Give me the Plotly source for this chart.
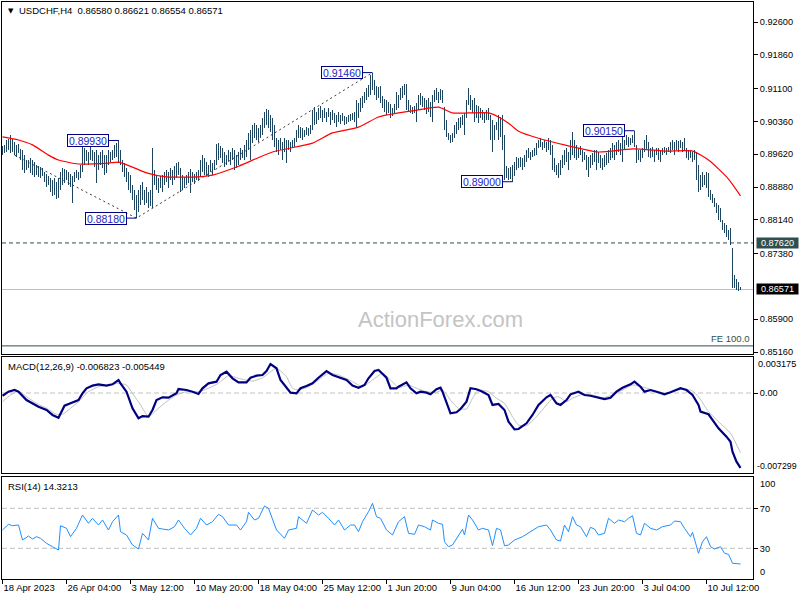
import plotly.graph_objects as go

# ---------------- data ----------------
SYMBOL = "USDCHF,H4"
LAST_OHLC = ["0.86580", "0.86621", "0.86554", "0.86571"]

bar_high = [
    0.8980, 0.8983, 0.8994, 0.8996, 0.9005, 0.8996, 0.8989, 0.8983, 0.8985,
    0.8974, 0.8972, 0.8960, 0.8949, 0.8949, 0.8954, 0.8949, 0.8944, 0.8938, 0.8936, 0.8933, 0.8931, 0.8922,
    0.8918, 0.8913, 0.8909, 0.8904, 0.8909, 0.8900, 0.8909,
    0.8922, 0.8931, 0.8929, 0.8926, 0.8922, 0.8918, 0.8913, 0.8922, 0.8926, 0.8922, 0.8938, 0.8978,
    0.8976, 0.8972, 0.8967, 0.8978, 0.8972, 0.8967, 0.8972, 0.8960, 0.8967, 0.8972, 0.8960, 0.8960, 0.8972,
    0.8967, 0.8972, 0.8983, 0.8987, 0.8993, 0.8972,
    0.8949, 0.8942, 0.8931, 0.8922, 0.8915, 0.8892, 0.8881, 0.8870, 0.8881, 0.8892, 0.8900, 0.8881, 0.8888,
    0.8877, 0.8881, 0.8976, 0.8926, 0.8915, 0.8909,
    0.8913, 0.8915, 0.8922, 0.8926, 0.8922, 0.8931, 0.8926, 0.8936, 0.8942, 0.8944, 0.8931, 0.8915, 0.8911,
    0.8915, 0.8922, 0.8929, 0.8922, 0.8918, 0.8922, 0.8926,
    0.8949, 0.8960, 0.8954, 0.8944, 0.8938, 0.8949, 0.8942, 0.8949, 0.8985, 0.8987, 0.8980, 0.8976, 0.8967,
    0.8960, 0.8972, 0.8967, 0.8976, 0.8972, 0.8960, 0.8967, 0.8976, 0.8972, 0.8983, 0.8994, 0.9010, 0.9017,
    0.9028, 0.9032, 0.9028, 0.9021,
    0.9028, 0.9044, 0.9057, 0.9064, 0.9062, 0.9050, 0.9044, 0.9028, 0.8998, 0.8994, 0.8998, 0.8989, 0.8998,
    0.8994, 0.8994, 0.8989, 0.8994, 0.8998, 0.9017, 0.9028,
    0.9023, 0.9021, 0.9017, 0.9023, 0.9021, 0.9028, 0.9062, 0.9068, 0.9057, 0.9066, 0.9070, 0.9062, 0.9066,
    0.9057, 0.9066, 0.9057, 0.9062, 0.9055, 0.9050, 0.9057, 0.9050, 0.9055, 0.9048, 0.9046, 0.9050, 0.9053,
    0.9055, 0.9057, 0.9084, 0.9077, 0.9088, 0.9093,
    0.9102, 0.9111, 0.9118, 0.9141, 0.9146, 0.9129, 0.9115, 0.9113, 0.9115, 0.9093, 0.9086, 0.9084, 0.9080,
    0.9075, 0.9066, 0.9075, 0.9102, 0.9096, 0.9111, 0.9115, 0.9120, 0.9120, 0.9084,
    0.9073, 0.9068, 0.9070, 0.9077, 0.9096, 0.9100, 0.9093, 0.9089, 0.9084, 0.9089, 0.9080, 0.9096, 0.9107,
    0.9111, 0.9102, 0.9109, 0.9107, 0.9068, 0.9039, 0.9010, 0.9005, 0.9010, 0.9028, 0.9035, 0.9044, 0.9046,
    0.9050, 0.9055, 0.9084, 0.9111, 0.9096, 0.9084, 0.9089, 0.9073, 0.9070, 0.9066, 0.9062, 0.9057, 0.9062,
    0.9066, 0.9050, 0.9039, 0.9028, 0.9035, 0.9050,
    0.9046, 0.9050, 0.9005, 0.8936, 0.8931, 0.8933, 0.8938, 0.8944, 0.8956, 0.8954, 0.8956, 0.8954, 0.8960,
    0.8972, 0.8976, 0.8967, 0.8972, 0.8976, 0.8987, 0.8994, 0.8998, 0.8989, 0.8994, 0.8989, 0.8998, 0.8994,
    0.8983, 0.8954, 0.8938, 0.8942, 0.8949, 0.8960, 0.8972, 0.8976, 0.8967, 0.8994, 0.9012, 0.8994, 0.8983,
    0.8976, 0.8980, 0.8972, 0.8967, 0.8960, 0.8956, 0.8960, 0.8965, 0.8972, 0.8972, 0.8967,
    0.8960, 0.8954, 0.8960, 0.8965, 0.8972, 0.8976, 0.8987, 0.8983, 0.8989, 0.8994, 0.8987, 0.9012, 0.8994,
    0.9005, 0.9001, 0.8998, 0.9005, 0.9015, 0.8983, 0.8972, 0.8972, 0.8976, 0.8994, 0.9005, 0.8989, 0.8976,
    0.8978, 0.8972, 0.8976, 0.8976, 0.8972, 0.8976, 0.8978, 0.8976, 0.8978, 0.8989, 0.8994, 0.8989, 0.8994,
    0.8991, 0.8994, 0.8989, 0.8998, 0.8976, 0.8972, 0.8972, 0.8967, 0.8972, 0.8967, 0.8938,
    0.8915, 0.8922, 0.8915, 0.8922, 0.8920, 0.8881, 0.8872, 0.8863, 0.8852, 0.8848, 0.8841, 0.8814, 0.8807,
    0.8802, 0.8791, 0.8796, 0.8751, 0.8690, 0.8681, 0.8674, 0.8662,
]

bar_low = [
    0.8960, 0.8965, 0.8967, 0.8972, 0.8965, 0.8968, 0.8960, 0.8956, 0.8965,
    0.8949, 0.8926, 0.8920, 0.8926, 0.8931, 0.8920, 0.8915, 0.8911, 0.8915, 0.8911, 0.8909, 0.8913, 0.8900,
    0.8888, 0.8892, 0.8876, 0.8867, 0.8870, 0.8861, 0.8863,
    0.8881, 0.8892, 0.8897, 0.8904, 0.8892, 0.8888, 0.8852, 0.8900, 0.8909, 0.8904, 0.8909, 0.8922,
    0.8938, 0.8947, 0.8938, 0.8949, 0.8947, 0.8933, 0.8897, 0.8926, 0.8938, 0.8931, 0.8915, 0.8920, 0.8938,
    0.8944, 0.8949, 0.8954, 0.8956, 0.8942, 0.8938,
    0.8922, 0.8911, 0.8900, 0.8881, 0.8874, 0.8859, 0.8836, 0.8818, 0.8832, 0.8848, 0.8859, 0.8848, 0.8852,
    0.8841, 0.8845, 0.8841, 0.8892, 0.8881, 0.8874,
    0.8885, 0.8876, 0.8892, 0.8900, 0.8885, 0.8904, 0.8892, 0.8904, 0.8909, 0.8915, 0.8876, 0.8881, 0.8885,
    0.8892, 0.8897, 0.8874, 0.8900, 0.8894, 0.8904, 0.8902,
    0.8911, 0.8922, 0.8915, 0.8913, 0.8911, 0.8922, 0.8915, 0.8926, 0.8938, 0.8949, 0.8954, 0.8942, 0.8933,
    0.8938, 0.8947, 0.8938, 0.8949, 0.8926, 0.8931, 0.8938, 0.8949, 0.8954, 0.8949, 0.8956, 0.8972, 0.8949,
    0.8987, 0.8998, 0.8994, 0.8989,
    0.8998, 0.9005, 0.9021, 0.9028, 0.9021, 0.9012, 0.8994, 0.8978, 0.8967, 0.8960, 0.8972, 0.8949, 0.8967,
    0.8942, 0.8972, 0.8967, 0.8976, 0.8978, 0.8989, 0.8998,
    0.8998, 0.8994, 0.9001, 0.9005, 0.9003, 0.9008, 0.9017, 0.9028, 0.9030, 0.9039, 0.9044, 0.9035, 0.9044,
    0.9035, 0.9046, 0.9028, 0.9039, 0.9032, 0.9023, 0.9035, 0.9030, 0.9037, 0.9028, 0.9030, 0.9035, 0.9037,
    0.9039, 0.9035, 0.9023, 0.9044, 0.9057, 0.9066,
    0.9077, 0.9084, 0.9091, 0.9096, 0.9107, 0.9096, 0.9084, 0.9088, 0.9077, 0.9066, 0.9057, 0.9050, 0.9055,
    0.9044, 0.9048, 0.9053, 0.9062, 0.9066, 0.9084, 0.9088, 0.9096, 0.9062, 0.9057,
    0.9055, 0.9053, 0.9055, 0.9034, 0.9062, 0.9073, 0.9068, 0.9062, 0.9053, 0.9057, 0.9046, 0.9034, 0.9080,
    0.9084, 0.9077, 0.9084, 0.9077, 0.9017, 0.9001, 0.8994, 0.8987, 0.8989, 0.8998, 0.9008, 0.9017, 0.9021,
    0.9028, 0.9005, 0.9044, 0.9073, 0.9062, 0.9055, 0.9035, 0.9044, 0.9032, 0.9044, 0.9039, 0.9032, 0.9039,
    0.9039, 0.8994, 0.8967, 0.8994, 0.9017, 0.8994,
    0.9001, 0.8972, 0.8904, 0.8909, 0.8904, 0.8907, 0.8900, 0.8913, 0.8926, 0.8931, 0.8933, 0.8926, 0.8933,
    0.8944, 0.8954, 0.8949, 0.8956, 0.8958, 0.8960, 0.8976, 0.8978, 0.8972, 0.8976, 0.8967, 0.8972, 0.8960,
    0.8926, 0.8922, 0.8915, 0.8909, 0.8915, 0.8931, 0.8938, 0.8944, 0.8926, 0.8949, 0.8960, 0.8954, 0.8949,
    0.8954, 0.8960, 0.8944, 0.8949, 0.8926, 0.8911, 0.8931, 0.8938, 0.8944, 0.8926, 0.8942,
    0.8931, 0.8926, 0.8933, 0.8938, 0.8942, 0.8949, 0.8954, 0.8949, 0.8960, 0.8967, 0.8960, 0.8944, 0.8972,
    0.8983, 0.8978, 0.8983, 0.8987, 0.8978, 0.8942, 0.8949, 0.8944, 0.8954, 0.8967, 0.8972, 0.8956, 0.8954,
    0.8956, 0.8944, 0.8960, 0.8949, 0.8944, 0.8960, 0.8965, 0.8960, 0.8967, 0.8965, 0.8972, 0.8960, 0.8972,
    0.8967, 0.8976, 0.8967, 0.8972, 0.8954, 0.8949, 0.8954, 0.8944, 0.8949, 0.8904, 0.8877,
    0.8881, 0.8888, 0.8892, 0.8885, 0.8865, 0.8859, 0.8852, 0.8843, 0.8830, 0.8814, 0.8809, 0.8791, 0.8784,
    0.8775, 0.8769, 0.8757, 0.8661, 0.8661, 0.8656, 0.8654, 0.8655,
]

# moving average (red), sampled along the bars
ma_idx = [0, 8, 15, 23, 28, 38, 53, 58, 65, 72, 82, 98, 105, 118, 135, 155, 165, 178, 188, 198,
          208, 218, 225, 233, 243, 248, 253, 258, 268, 282, 298, 315, 332, 345, 353, 363, 369]
ma_val = [0.9001, 0.8994, 0.8983, 0.8960, 0.8949, 0.8940, 0.8942, 0.8944, 0.8933, 0.8920, 0.8911,
          0.8911, 0.8915, 0.8935, 0.8967, 0.8987, 0.9010, 0.9023, 0.9046, 0.9055, 0.9062, 0.9068,
          0.9055, 0.9055, 0.9055, 0.9046, 0.9032, 0.9014, 0.8998, 0.8982, 0.8967, 0.8974, 0.8969,
          0.8969, 0.8949, 0.8906, 0.8868]

macd_idx = [0, 3, 6, 8, 12, 15, 18, 22, 25, 28, 29, 31, 34, 38, 40, 42, 45, 48, 52, 55, 58, 59, 62, 65,
            68, 70, 73, 75, 77, 80, 83, 87, 88, 92, 95, 98, 100, 103, 107, 109, 112, 115, 118, 122, 124,
            127, 130, 132, 134, 137, 139, 142, 144, 147, 149, 152, 155, 158, 162, 165, 168, 172, 175, 178,
            181, 183, 186, 188, 192, 194, 197, 198, 202, 204, 207, 209, 212, 214, 217, 219, 220, 222, 224,
            227, 229, 232, 234, 237, 240, 243, 245, 248, 251, 253, 256, 258, 262, 265, 268, 272, 274, 277,
            279, 282, 284, 288, 291, 294, 298, 301, 304, 307, 310, 314, 316, 319, 321, 324, 327, 331, 334,
            339, 342, 345, 348, 349, 353, 355, 358, 362, 364, 365, 367, 369]
macd_val = [-0.00025, 0.00012, 0.00027, 0.00012, -0.00064, -0.00094, -0.00125, -0.00155, -0.00200,
            -0.00225, -0.00185, -0.00116, -0.00094, -0.00064, -0.00003, 0.00043, 0.00067, 0.00079,
            0.00067, 0.00079, 0.00118, 0.00088, 0.00012, -0.00139, -0.00230, -0.00210, -0.00216,
            -0.00155, -0.00064, -0.00039, -0.00043, -0.00003, 0.00036, 0.00027, 0.00012, -0.00009,
            0.00043, 0.00088, 0.00103, 0.00164, 0.00194, 0.00134, 0.00097, 0.00097, 0.00139, 0.00158,
            0.00164, 0.00200, 0.00264, 0.00225, 0.00118, 0.00043, 0.00003, -0.00003, 0.00043, 0.00064,
            0.00088, 0.00139, 0.00200, 0.00164, 0.00146, 0.00118, 0.00067, 0.00048, 0.00073, 0.00134,
            0.00200, 0.00210, 0.00139, 0.00043, 0.00043, 0.00057, 0.00097, 0.00043, -0.00003, 0.00012,
            0.00003, -0.00012, 0.00034, 0.00048, 0.00012, -0.00094, -0.00185, -0.00176, -0.00146,
            -0.00079, 0.00043, 0.00034, 0.00012, -0.00018, -0.00109, -0.00100, -0.00155, -0.00261,
            -0.00331, -0.00328, -0.00276, -0.00200, -0.00109, -0.00039, -0.00018, -0.00094, -0.00109,
            -0.00064, -0.00012, 0.00012, -0.00018, -0.00025, -0.00039, -0.00055, -0.00043, 0.00012,
            0.00048, 0.00079, 0.00103, 0.00057, 0.00012, 0.00027, 0.00012, -0.00012, 0.00006, 0.00043,
            0.00027, -0.00018, -0.00109, -0.00170, -0.00194, -0.00246, -0.00322, -0.00398, -0.00444,
            -0.00535, -0.00626, -0.006823]

sig_idx = [0, 4, 8, 12, 17, 22, 27, 30, 34, 38, 43, 48, 53, 58, 62, 65, 69, 73, 77, 82, 87, 92, 98, 103,
           108, 113, 118, 125, 130, 137, 142, 145, 148, 153, 158, 163, 168, 175, 180, 185, 190, 194, 198,
           203, 207, 212, 217, 220, 224, 228, 232, 235, 238, 243, 247, 251, 255, 258, 262, 267, 272, 275,
           278, 282, 285, 290, 295, 300, 305, 310, 315, 320, 325, 332, 337, 342, 345, 348, 353, 358, 364, 369]
sig_val = [-0.00079, -0.00018, 0.00018, -0.00034, -0.00094, -0.00139, -0.00194, -0.00194, -0.00139,
           -0.00079, 0.00012, 0.00057, 0.00073, 0.00088, 0.00073, -0.00003, -0.00109, -0.00216, -0.00155,
           -0.00079, -0.00018, 0.00012, 0.00012, 0.00043, 0.00088, 0.00158, 0.00134, 0.00109, 0.00139,
           0.00225, 0.00148, 0.00043, 0.00027, 0.00057, 0.00118, 0.00179, 0.00164, 0.00103, 0.00057,
           0.00118, 0.00179, 0.00118, 0.00050, 0.00073, 0.00043, 0.00012, 0.00006, 0.00027, -0.00064,
           -0.00139, -0.00146, -0.00048, 0.00027, 0.00012, -0.00048, -0.00094, -0.00216, -0.00292,
           -0.00298, -0.00216, -0.00109, -0.00048, -0.00034, -0.00079, -0.00048, -0.00012, -0.00018,
           -0.00043, -0.00018, 0.00027, 0.00073, 0.00057, 0.00027, -0.00003, 0.00027, 0.00034, 0.00018,
           -0.00034, -0.00170, -0.00261, -0.00367, -0.005449]

rsi_idx = [0, 3, 5, 8, 10, 13, 15, 17, 19, 22, 25, 28, 29, 32, 34, 37, 40, 43, 45, 48, 50, 53, 55, 58, 59,
           62, 65, 68, 70, 73, 75, 78, 80, 83, 86, 88, 91, 94, 97, 99, 102, 105, 108, 110, 113, 117, 119,
           122, 123, 126, 128, 131, 133, 137, 141, 143, 147, 148, 152, 155, 158, 160, 163, 166, 168, 171,
           174, 176, 178, 180, 183, 185, 187, 189, 192, 195, 198, 201, 203, 206, 208, 211, 214, 215, 218,
           220, 221, 223, 225, 228, 230, 231, 233, 235, 238, 240, 243, 245, 247, 249, 251, 253, 256, 260,
           264, 268, 272, 274, 277, 279, 281, 283, 285, 287, 289, 292, 294, 296, 298, 301, 303, 306, 308,
           311, 313, 315, 317, 319, 321, 324, 327, 330, 334, 336, 339, 341, 344, 345, 348, 350, 352, 354,
           356, 359, 361, 363, 365, 369]
rsi_val = [48.3, 54, 52.6, 53.3, 38.3, 42.3, 39.3, 41.6, 40, 35, 31.6, 28.3, 52.6, 50, 41.6, 50, 63.3, 55,
           60, 53.3, 58.3, 48.3, 56.6, 63.3, 46.6, 43.3, 33.3, 29.3, 45, 38.3, 60, 50, 49.3, 48.3, 51.6,
           58.3, 50, 43.3, 50, 60, 53.3, 56.6, 64, 61.6, 53.3, 53.3, 48.3, 56.6, 66, 58.3, 60, 72.3, 70,
           48.3, 40, 48.3, 50, 61.6, 55, 68.3, 63.3, 66, 60, 53.3, 58.3, 48.3, 53.3, 53.3, 46.6, 56.6,
           66.6, 75, 61.6, 60, 48.3, 43.3, 56.6, 61.6, 45, 44, 53.3, 51.6, 48.3, 58.3, 55, 54, 36.6,
           31.6, 33.3, 43.3, 49, 43.3, 63.3, 58.3, 48.3, 50, 48.3, 32.6, 50, 48.3, 32.6, 33.3, 38.3,
           41.6, 46.6, 51.6, 53.3, 48.3, 38.3, 37.3, 53.3, 46.6, 61.6, 53.3, 51.6, 41.6, 51, 49.3, 43.3,
           45, 60, 55, 58.3, 56.6, 60, 62.6, 45, 43.3, 55, 50, 48.3, 51.6, 53.3, 57.3, 56.6, 50, 41.6,
           46, 25, 36.6, 41.6, 31.6, 29.3, 31.6, 25, 24, 15, 14.3213]

swing_idx = [58, 67, 185, 255, 316]
swing_price = [0.89930, 0.88180, 0.91460, 0.89000, 0.90150]

fe_idx = [6, 67, 185]
fe_price = [0.8960, 0.8818, 0.9146]
fe_level = 0.8530
support_level = 0.87620
last_price = 0.86571

price_ticks = [0.92600, 0.91860, 0.91100, 0.90360, 0.89620, 0.88880, 0.88140, 0.87380, 0.85900, 0.85160]
time_tick_idx = [0, 32, 64, 96, 128, 160, 192, 224, 256, 288, 320, 352]
time_tick_text = ["18 Apr 2023", "26 Apr 04:00", "3 May 12:00", "10 May 20:00", "18 May 04:00",
                  "25 May 12:00", "1 Jun 20:00", "9 Jun 04:00", "16 Jun 12:00", "23 Jun 20:00",
                  "3 Jul 04:00", "10 Jul 12:00"]
macd_labels = {"top": "0.003175", "zero": "0.00", "bottom": "-0.007299"}
macd_title = "MACD(12,26,9) -0.006823 -0.005449"
rsi_title = "RSI(14) 14.3213"

# ---------------- styling ----------------
W, H = 800, 600
FONT = "Liberation Sans"
AX_FS = 9.2
BAR_COLOR = "#1e4560"
NAVY = "#000080"
SLATE = "#2f4f4f"
SILVER = "#c0c0c0"


def px(x):
    return x / W


def py(y):
    return 1 - y / H


n = min(len(bar_high), len(bar_low))
idx = list(range(n))

fig = go.Figure()

# Fibonacci expansion guide lines
fig.add_trace(go.Scatter(x=fe_idx, y=fe_price, mode="lines", xaxis="x", yaxis="y",
                         line=dict(color="#3a3a3a", width=1, dash="2px,3px"), hoverinfo="skip"))
# price bars (high-low)
fig.add_trace(go.Bar(x=idx, base=bar_low[:n],
                     y=[h - l for h, l in zip(bar_high[:n], bar_low[:n])],
                     width=0.5, marker=dict(color=BAR_COLOR, line=dict(width=0)),
                     xaxis="x", yaxis="y"))
# moving average
fig.add_trace(go.Scatter(x=ma_idx, y=ma_val, mode="lines", xaxis="x", yaxis="y",
                         line=dict(color="#ff0000", width=1.2, shape="spline", smoothing=0.6)))
# MACD
fig.add_trace(go.Scatter(x=sig_idx, y=sig_val, mode="lines", xaxis="x2", yaxis="y2",
                         line=dict(color=SILVER, width=1, shape="spline", smoothing=0.5)))
fig.add_trace(go.Scatter(x=macd_idx, y=macd_val, mode="lines", xaxis="x2", yaxis="y2",
                         line=dict(color=NAVY, width=2.2)))
# RSI
fig.add_trace(go.Scatter(x=rsi_idx, y=rsi_val, mode="lines", xaxis="x3", yaxis="y3",
                         line=dict(color="#1e90ff", width=1)))

xdom = [px(2), px(753)]
xr = [-0.25, 375.25]
axis_common = dict(showline=True, mirror=True, linecolor="black", linewidth=1,
                   showgrid=False, zeroline=False, automargin=False)

fig.update_layout(
    width=W, height=H, margin=dict(l=0, r=0, t=0, b=0, autoexpand=False),
    paper_bgcolor="white", plot_bgcolor="white", showlegend=False,
    font=dict(family=FONT, size=10, color="black"),
    bargap=0,
    xaxis=dict(domain=xdom, range=xr, anchor="y", showticklabels=False, ticks="", **axis_common),
    xaxis2=dict(domain=xdom, matches="x", anchor="y2", showticklabels=False, ticks="", **axis_common),
    xaxis3=dict(domain=xdom, matches="x", anchor="y3", tickvals=time_tick_idx, ticktext=time_tick_text,
                ticks="outside", ticklen=4, tickcolor="black", ticklabelposition="outside right",
                tickangle=0, tickfont=dict(size=9.5, family=FONT), **axis_common),
    yaxis=dict(domain=[py(354), py(2)], range=[0.85117, 0.93051], side="right", anchor="x",
               tickvals=price_ticks, ticktext=[f"{v:.5f}" for v in price_ticks],
               ticks="outside", ticklen=4, tickcolor="black",
               tickfont=dict(size=AX_FS, family=FONT), **axis_common),
    yaxis2=dict(domain=[py(473), py(357)], range=[-0.00729, 0.00328], side="right", anchor="x2",
                tickvals=[0.0], ticktext=[macd_labels["zero"]], ticks="outside", ticklen=4,
                tickcolor="black", tickfont=dict(size=AX_FS, family=FONT), **axis_common),
    yaxis3=dict(domain=[py(579), py(477)], range=[-0.7, 101.3], side="right", anchor="x3",
                tickvals=[70, 30], ticktext=["70", "30"], ticks="outside", ticklen=4,
                tickcolor="black", tickfont=dict(size=AX_FS, family=FONT), **axis_common),
)

shapes = [
    dict(type="line", xref="x domain", yref="y", x0=0, x1=1, y0=support_level, y1=support_level,
         line=dict(color=SLATE, width=1, dash="4px,3px"), layer="below"),
    dict(type="line", xref="x domain", yref="y", x0=0, x1=1, y0=last_price, y1=last_price,
         line=dict(color=SILVER, width=1), layer="below"),
    dict(type="line", xref="x domain", yref="y", x0=0, x1=1, y0=fe_level, y1=fe_level,
         line=dict(color=SLATE, width=1), layer="below"),
    dict(type="line", xref="x2 domain", yref="y2", x0=0, x1=1, y0=0, y1=0,
         line=dict(color=SILVER, width=1, dash="5px,3px"), layer="below"),
    dict(type="line", xref="x3 domain", yref="y3", x0=0, x1=1, y0=70, y1=70,
         line=dict(color=SILVER, width=1, dash="5px,3px"), layer="below"),
    dict(type="line", xref="x3 domain", yref="y3", x0=0, x1=1, y0=30, y1=30,
         line=dict(color=SILVER, width=1, dash="5px,3px"), layer="below"),
]
for i, p in zip(swing_idx, swing_price):
    shapes.append(dict(type="line", xref="x", yref="y", x0=i - 5, x1=i, y0=p, y1=p,
                       line=dict(color=NAVY, width=1)))
fig.update_layout(shapes=shapes)

ann = [
    dict(x=px(6), y=py(11), xref="paper", yref="paper", text="▼", xanchor="left", yanchor="middle",
         font=dict(family="DejaVu Sans", size=7, color="black")),
    dict(x=px(17), y=py(11), xref="paper", yref="paper",
         text=SYMBOL + "\u00a0\u00a0" + " ".join(LAST_OHLC), xanchor="left", yanchor="middle",
         font=dict(size=9.5, color="black")),
    dict(x=px(6), y=py(366), xref="paper", yref="paper", text=macd_title, xanchor="left",
         yanchor="middle", font=dict(size=9.5, color="black")),
    dict(x=px(6), y=py(486), xref="paper", yref="paper", text=rsi_title, xanchor="left",
         yanchor="middle", font=dict(size=9.5, color="black")),
    dict(x=px(440), y=py(319), xref="paper", yref="paper", text="ActionForex.com", xanchor="center",
         yanchor="middle", font=dict(size=22, color="#c4c4c4")),
    dict(x=px(752), y=fe_level, xref="paper", yref="y", text="FE 100.0", xanchor="right",
         yanchor="bottom", font=dict(size=9.5, color=SLATE)),
    dict(x=px(756), y=support_level, xref="paper", yref="y", text=f"{support_level:.5f}",
         xanchor="left", yanchor="middle", bgcolor=SLATE, width=41, height=10, borderpad=0,
         font=dict(size=AX_FS, color="white")),
    dict(x=px(756), y=last_price, xref="paper", yref="y", text=f"{last_price:.5f}",
         xanchor="left", yanchor="middle", bgcolor="black", width=41, height=10, borderpad=0,
         font=dict(size=AX_FS, color="white")),
    dict(x=px(756), y=1, xref="paper", yref="y2 domain", text=macd_labels["top"], xanchor="left",
         yanchor="top", font=dict(size=AX_FS, color="black")),
    dict(x=px(755), y=0, xref="paper", yref="y2 domain", text=macd_labels["bottom"], xanchor="left",
         yanchor="bottom", font=dict(size=8.8, color="black")),
    dict(x=px(758), y=1, xref="paper", yref="y3 domain", text="100", xanchor="left",
         yanchor="top", font=dict(size=AX_FS, color="black")),
    dict(x=px(758), y=0, xref="paper", yref="y3 domain", text="0", xanchor="left",
         yanchor="bottom", font=dict(size=AX_FS, color="black")),
]
for i, p in zip(swing_idx, swing_price):
    ann.append(dict(x=i - 5, y=p, xref="x", yref="y", text=f"{p:.5f}", xanchor="right",
                    yanchor="middle", bgcolor="white", bordercolor=NAVY, borderwidth=1,
                    borderpad=0, width=40, height=11,
                    font=dict(size=10.5, color="#1e1ec8")))
for a in ann:
    a["showarrow"] = False
fig.update_layout(annotations=ann)

fig.write_html("out.html",
               config={"displayModeBar": False, "staticPlot": True},
               post_script="document.body.style.margin='0';document.body.style.padding='0';"
                           "document.body.style.overflow='hidden';")
